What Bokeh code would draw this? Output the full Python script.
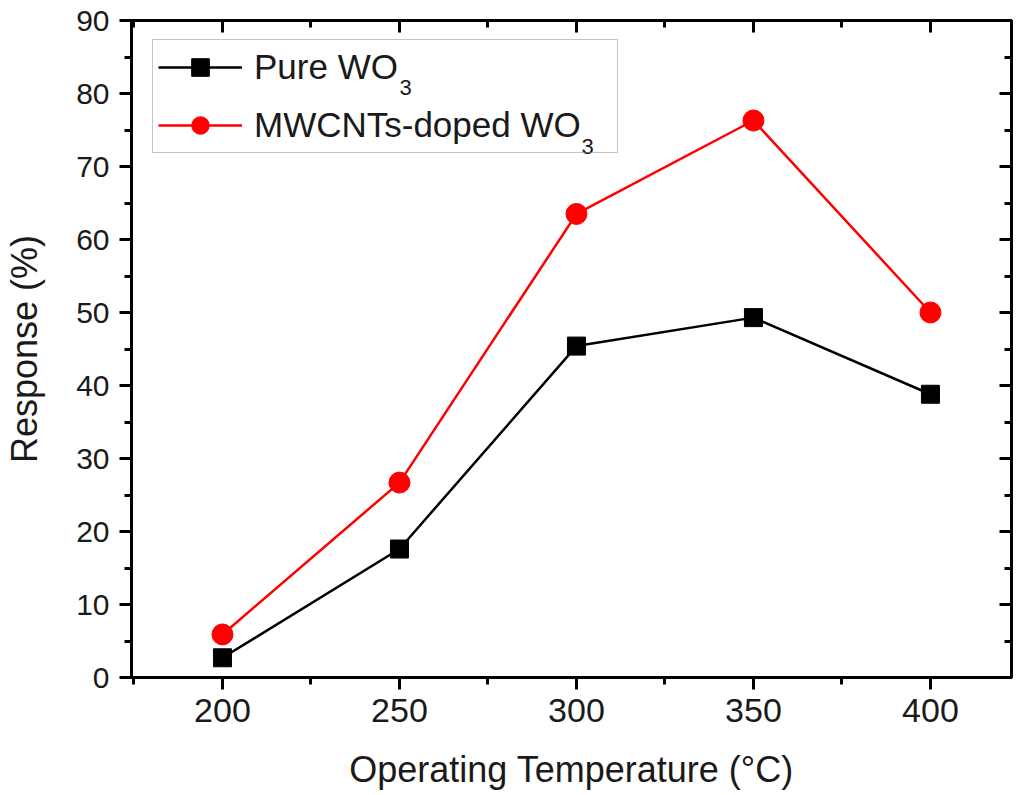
from bokeh.plotting import figure
from bokeh.models import (Range1d, LinearAxis, SingleIntervalTicker, Legend,
                          Label)
from bokeh.embed import file_html
from bokeh.resources import INLINE

# data
temps = [200, 250, 300, 350, 400]
pure_wo3 = [2.7, 17.6, 45.4, 49.3, 38.8]
mwcnt_wo3 = [5.9, 26.7, 63.5, 76.3, 50.0]

FONT = "Liberation Sans"

p = figure(frame_width=880, frame_height=657, output_backend="svg",
           toolbar_location=None,
           x_range=Range1d(174.3, 422.9), y_range=Range1d(0, 90),
           min_border_left=131, min_border_right=4, min_border_top=20,
           min_border_bottom=112)
p.background_fill_color = "white"
p.border_fill_color = "white"
p.outline_line_color = "black"
p.outline_line_width = 3
p.xgrid.visible = False
p.ygrid.visible = False

# bottom / left axes, ticks outward
p.xaxis.ticker = SingleIntervalTicker(interval=50, num_minor_ticks=2)
p.yaxis.ticker = SingleIntervalTicker(interval=10, num_minor_ticks=2)
for ax in [p.xaxis[0], p.yaxis[0]]:
    ax.axis_line_width = 3
    ax.major_tick_line_width = 3
    ax.minor_tick_line_width = 3
    ax.major_tick_out = 12
    ax.major_tick_in = 0
    ax.minor_tick_out = 7
    ax.minor_tick_in = 0
    ax.major_label_text_font = FONT
    ax.axis_label_text_font = FONT
    ax.axis_label_text_font_style = "normal"
    ax.axis_label_text_font_size = "36px"
    ax.major_label_text_color = "#1a1a1a"
    ax.axis_label_text_color = "#1a1a1a"
p.xaxis.major_label_text_font_size = "34px"
p.yaxis.major_label_text_font_size = "30px"
p.xaxis.axis_label = "Operating Temperature (°C)"
p.yaxis.axis_label = "Response (%)"
p.xaxis.major_label_standoff = 9
p.yaxis.major_label_standoff = 10
p.xaxis.axis_label_standoff = 24
p.yaxis.axis_label_standoff = 28

# top / right axes, ticks inward, no labels
top = LinearAxis(ticker=SingleIntervalTicker(interval=50, num_minor_ticks=2))
right = LinearAxis(ticker=SingleIntervalTicker(interval=10, num_minor_ticks=2))
for ax in [top, right]:
    ax.axis_line_width = 3
    ax.major_tick_line_width = 3
    ax.minor_tick_line_width = 3
    ax.major_tick_in = 12
    ax.major_tick_out = 0
    ax.minor_tick_in = 7
    ax.minor_tick_out = 0
    ax.major_label_text_alpha = 0
    ax.major_label_text_font_size = "1px"
    ax.major_label_standoff = 0
p.add_layout(top, "above")
p.add_layout(right, "right")

l1 = p.line(temps, pure_wo3, line_color="black", line_width=2.5)
s1 = p.scatter(temps, pure_wo3, marker="square", size=18, fill_color="black",
               line_color="black")
l2 = p.line(temps, mwcnt_wo3, line_color="#ff0000", line_width=2.5)
s2 = p.scatter(temps, mwcnt_wo3, marker="circle", size=21, fill_color="#ff0000",
               line_color="#ff0000")

# legend background left transparent so the subscripts below it show
legend = Legend(items=[("Pure WO", [l1, s1]), ("MWCNTs-doped WO", [l2, s2])],
                location=(21, 524), padding=5, spacing=14,
                glyph_width=84, glyph_height=44, label_width=358,
                label_standoff=12, label_text_font=FONT,
                label_text_font_size="35px", label_text_color="#1a1a1a",
                border_line_color="#8c8c8c", border_line_width=1.5,
                background_fill_alpha=0)
p.add_layout(legend)

# subscripts for WO3 in the legend
for xs, ys in [(250.0, 79.75), (301.4, 71.75)]:
    p.add_layout(Label(x=xs, y=ys, text="3", text_font=FONT,
                       text_font_size="22px", text_color="#1a1a1a"))

open("out.html", "w").write(file_html(p, INLINE))
